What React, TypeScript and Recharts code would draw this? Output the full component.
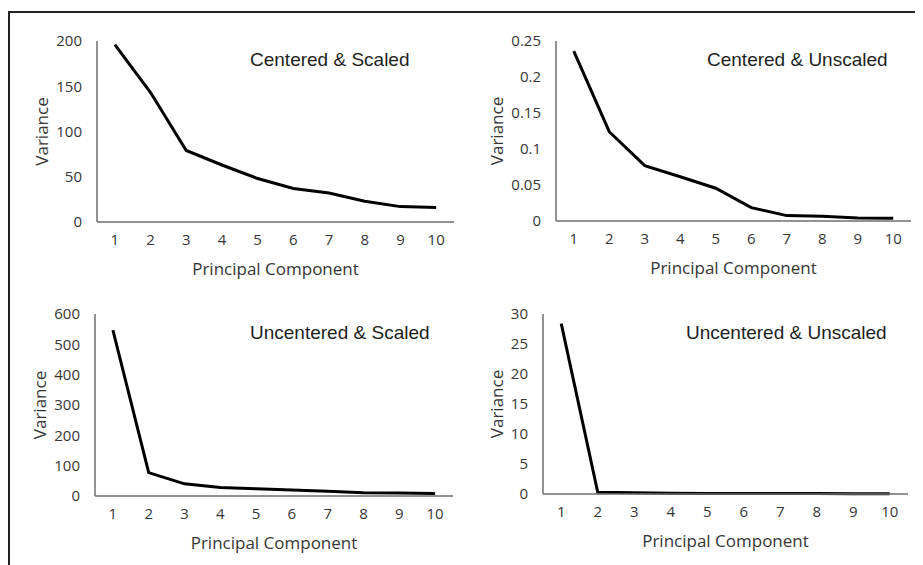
import React from 'react';
import { LineChart, Line, XAxis, YAxis } from 'recharts';

// principal components 1..10
const components = [1, 2, 3, 4, 5, 6, 7, 8, 9, 10];

const centeredScaled = [196, 143, 79, 63, 48, 37, 32, 23, 17, 16];
const centeredUnscaled = [0.236, 0.124, 0.077, 0.0615, 0.0455, 0.0185, 0.0075, 0.0065, 0.0043, 0.0037];
const uncenteredScaled = [547, 77, 40, 28, 24, 20, 16, 11, 10, 8];
const uncenteredUnscaled = [28.4, 0.3, 0.2, 0.12, 0.1, 0.09, 0.08, 0.07, 0.06, 0.05];

const ticksCS = [0, 50, 100, 150, 200];
const ticksCU = [0, 0.05, 0.1, 0.15, 0.2, 0.25];
const ticksUS = [0, 100, 200, 300, 400, 500, 600];
const ticksUU = [0, 5, 10, 15, 20, 25, 30];

const FONT = '"Open Sans", sans-serif';
const TEXT = '#363636';
const AXIS = '#6e6e6e';
const Y_AXIS_W = 75;
const TOP_M = 10;

interface PanelProps {
  title: string;
  values: number[];
  ticks: number[];
  plotLeft: number;
  plotTop: number;
  plotWidth: number;
  plotHeight: number;
  labelX: number;
  titleLeft: number;
  titleTop: number;
}

function Panel({
  title, values, ticks, plotLeft, plotTop, plotWidth, plotHeight, labelX, titleLeft, titleTop,
}: PanelProps) {
  const data = components.map((pc, i) => ({ pc, value: values[i] }));
  const width = Y_AXIS_W + plotWidth + 8;
  const height = TOP_M + plotHeight + 62;
  const chartLeft = plotLeft - Y_AXIS_W;
  return (
    <>
      <div style={{ position: 'absolute', left: chartLeft - 8, top: plotTop - TOP_M - 8 }}>
        <LineChart width={width} height={height} data={data} margin={{ top: TOP_M, right: 8, left: 0, bottom: 0 }}>
          <XAxis
            dataKey="pc"
            type="number"
            domain={[0.5, 10.5]}
            ticks={components}
            interval={0}
            height={62}
            tickLine={false}
            tickSize={0}
            tickMargin={12}
            axisLine={{ stroke: AXIS, strokeWidth: 1.5 }}
            tick={{ fill: TEXT, fontSize: 15, fontFamily: FONT }}
            label={{ value: 'Principal Component', position: 'insideBottom', offset: 9, fill: TEXT, fontSize: 17, fontFamily: FONT }}
          />
          <YAxis
            domain={[0, ticks[ticks.length - 1]]}
            ticks={ticks}
            interval={0}
            width={Y_AXIS_W}
            tickLine={false}
            tickSize={0}
            tickMargin={15}
            axisLine={{ stroke: AXIS, strokeWidth: 1.5 }}
            tick={{ fill: TEXT, fontSize: 15, fontFamily: FONT }}
            label={{
              value: 'Variance', angle: -90, position: 'insideLeft', offset: labelX - chartLeft,
              fill: TEXT, fontSize: 17, fontFamily: FONT, style: { textAnchor: 'middle' },
            }}
          />
          <Line type="linear" dataKey="value" stroke="#000" strokeWidth={3} dot={false} isAnimationActive={false} />
        </LineChart>
      </div>
      <div
        style={{
          position: 'absolute', left: titleLeft - 8, top: titleTop - 8, fontFamily: '"Liberation Sans", Arial, sans-serif',
          fontSize: 19, lineHeight: 1, color: '#1e1e1e', whiteSpace: 'nowrap',
        }}
      >
        {title}
      </div>
    </>
  );
}

export default function App() {
  return (
    <div style={{ position: 'relative', width: 915, height: 557, overflow: 'hidden', background: '#fff' }}>
      <div
        style={{
          position: 'absolute', left: 0, top: 3, width: 1000, height: 600,
          borderTop: '2px solid #222', borderLeft: '2px solid #222',
        }}
      />
      <Panel title="Centered & Scaled" values={centeredScaled} ticks={ticksCS}
        plotLeft={97} plotTop={41} plotWidth={357} plotHeight={181} labelX={42} titleLeft={250} titleTop={50} />
      <Panel title="Centered & Unscaled" values={centeredUnscaled} ticks={ticksCU}
        plotLeft={556} plotTop={41} plotWidth={355} plotHeight={180} labelX={497} titleLeft={707} titleTop={50} />
      <Panel title="Uncentered & Scaled" values={uncenteredScaled} ticks={ticksUS}
        plotLeft={95} plotTop={314} plotWidth={358} plotHeight={182} labelX={40} titleLeft={250} titleTop={323} />
      <Panel title="Uncentered & Unscaled" values={uncenteredUnscaled} ticks={ticksUU}
        plotLeft={543} plotTop={314} plotWidth={365} plotHeight={180} labelX={497} titleLeft={686} titleTop={323} />
    </div>
  );
}
